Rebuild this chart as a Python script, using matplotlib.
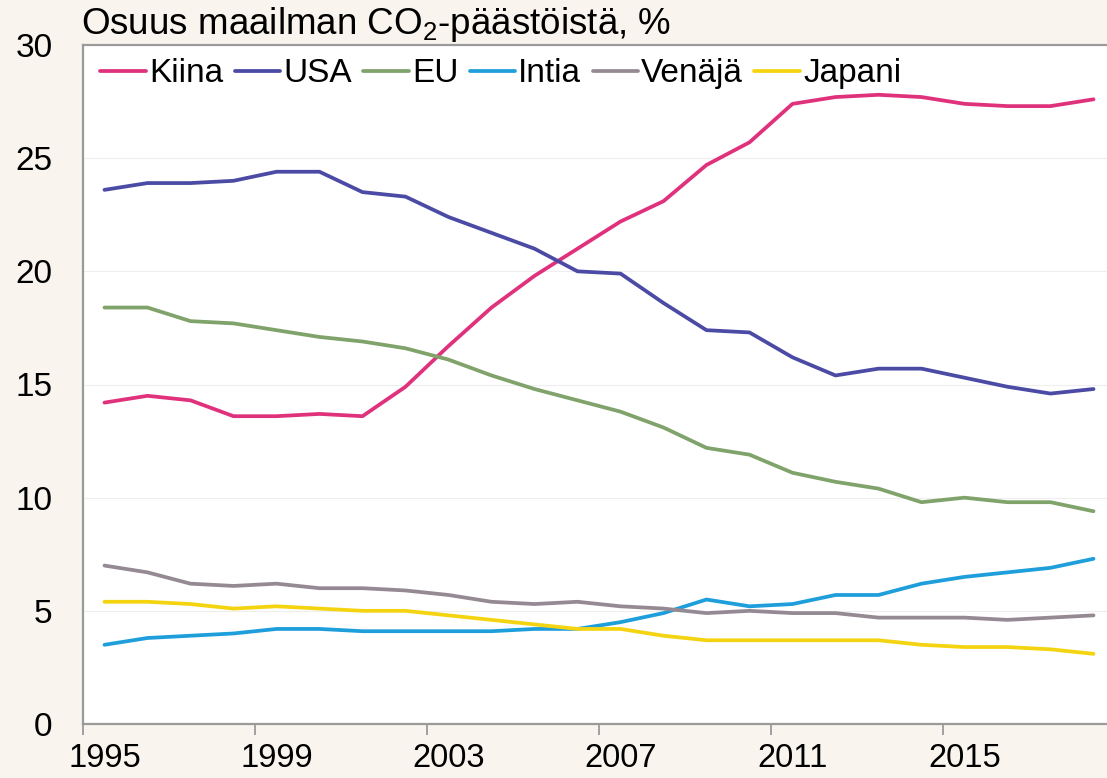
import numpy as np
import matplotlib
matplotlib.use('Agg')
import matplotlib.pyplot as plt

plt.rcParams['font.family'] = ['Liberation Sans', 'DejaVu Sans']
plt.rcParams['mathtext.default'] = 'regular'

years = np.arange(1995, 2019)

kiina = [14.2, 14.5, 14.3, 13.6, 13.6, 13.7, 13.6, 14.9, 16.7, 18.4, 19.8, 21.0,
         22.2, 23.1, 24.7, 25.7, 27.4, 27.7, 27.8, 27.7, 27.4, 27.3, 27.3, 27.6]
usa = [23.6, 23.9, 23.9, 24.0, 24.4, 24.4, 23.5, 23.3, 22.4, 21.7, 21.0, 20.0,
       19.9, 18.6, 17.4, 17.3, 16.2, 15.4, 15.7, 15.7, 15.3, 14.9, 14.6, 14.8]
eu = [18.4, 18.4, 17.8, 17.7, 17.4, 17.1, 16.9, 16.6, 16.1, 15.4, 14.8, 14.3,
      13.8, 13.1, 12.2, 11.9, 11.1, 10.7, 10.4, 9.8, 10.0, 9.8, 9.8, 9.4]
intia = [3.5, 3.8, 3.9, 4.0, 4.2, 4.2, 4.1, 4.1, 4.1, 4.1, 4.2, 4.2,
         4.5, 4.9, 5.5, 5.2, 5.3, 5.7, 5.7, 6.2, 6.5, 6.7, 6.9, 7.3]
venaja = [7.0, 6.7, 6.2, 6.1, 6.2, 6.0, 6.0, 5.9, 5.7, 5.4, 5.3, 5.4,
          5.2, 5.1, 4.9, 5.0, 4.9, 4.9, 4.7, 4.7, 4.7, 4.6, 4.7, 4.8]
japani = [5.4, 5.4, 5.3, 5.1, 5.2, 5.1, 5.0, 5.0, 4.8, 4.6, 4.4, 4.2,
          4.2, 3.9, 3.7, 3.7, 3.7, 3.7, 3.7, 3.5, 3.4, 3.4, 3.3, 3.1]

series = [('Kiina', kiina, '#e0317c'),
          ('USA', usa, '#4b4aa5'),
          ('EU', eu, '#7fa36a'),
          ('Intia', intia, '#1e9fdc'),
          ('Venäjä', venaja, '#958a93'),
          ('Japani', japani, '#f4d411')]

xtick_years = [1995, 1999, 2003, 2007, 2011, 2015]
yticks = [0, 5, 10, 15, 20, 25, 30]

bg = '#f9f4ee'
spine_col = '#9a9a9a'

fig = plt.figure(figsize=(11.07, 7.78), dpi=100)
fig.patch.set_facecolor(bg)
# axes runs slightly past the right edge, like the cropped original
ax = fig.add_axes([83 / 1107, 1 - 724 / 778, 1032 / 1107, 679 / 778])
ax.set_facecolor('white')

# category-style axis: each year is a slot, point in the middle of it
for name, vals, col in series:
    ax.plot(years + 0.5, vals, color=col, lw=2.7, label=name, solid_capstyle='round')

ax.set_xlim(1995, 2019)
ax.set_ylim(0, 30)

# ticks at slot edges, labels centred on the slot
ax.set_xticks(xtick_years)
ax.set_xticklabels([])
ax.set_xticks([y + 0.5 for y in xtick_years], minor=True)
ax.set_xticklabels([str(y) for y in xtick_years], minor=True)
ax.set_yticks(yticks)
ax.grid(axis='y', color='#eeeeee', lw=0.8)
ax.set_axisbelow(True)

ax.tick_params(axis='x', which='major', direction='out', length=8, width=1.3, color=spine_col)
ax.tick_params(axis='x', which='minor', length=0, labelsize=23.5, pad=14)
ax.tick_params(axis='y', length=0, labelsize=24, pad=22)

for side in ['left', 'bottom', 'top']:
    ax.spines[side].set_color(spine_col)
    ax.spines[side].set_linewidth(1.6)
ax.spines['right'].set_visible(False)

fig.text(81 / 1107, 1 - 24 / 778, 'Osuus maailman CO$_2$-päästöistä, %',
         fontsize=26.5, va='center', ha='left')

ax.legend(loc='upper left', ncol=6, frameon=False, fontsize=24,
          handlelength=1.36, handletextpad=0.1, columnspacing=0.34,
          borderaxespad=0.0, bbox_to_anchor=(0.004, 1.0))

fig.savefig('out.png', dpi=100, facecolor=bg)
